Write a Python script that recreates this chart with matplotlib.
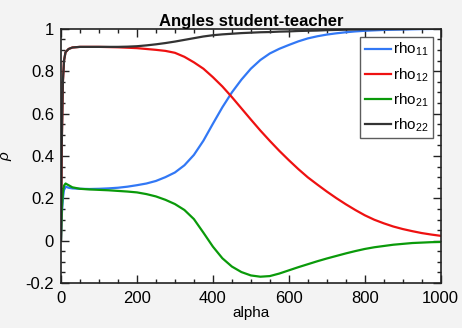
import matplotlib
matplotlib.use('Agg')
import matplotlib.pyplot as plt
from matplotlib.ticker import MultipleLocator

plt.rcParams['font.family'] = ['Liberation Sans', 'DejaVu Sans']
plt.rcParams['mathtext.fontset'] = 'custom'
plt.rcParams['mathtext.rm'] = 'Liberation Sans'
plt.rcParams['mathtext.it'] = 'Liberation Sans:italic'

# values
alpha = [0, 2, 5, 8, 12, 20, 30, 50, 75, 100, 125, 150,
         175, 200, 225, 250, 275, 300, 325, 350, 375, 400,
         425, 450, 475, 500, 525, 550, 575, 600, 625, 650,
         675, 700, 725, 750, 775, 800, 825, 850, 875, 900,
         925, 950, 975, 1000]
rho11 = [0, 0.12, 0.2, 0.24, 0.255, 0.25, 0.247, 0.245, 0.244, 0.245, 0.247, 0.25,
         0.255, 0.262, 0.27, 0.282, 0.3, 0.322, 0.356, 0.405, 0.472, 0.552,
         0.63, 0.7, 0.76, 0.812, 0.853, 0.884, 0.906, 0.924, 0.941, 0.955,
         0.965, 0.973, 0.979, 0.984, 0.988, 0.991, 0.993, 0.995, 0.996, 0.997,
         0.998, 0.999, 0.9995, 1.0]
rho12 = [0, 0.45, 0.75, 0.85, 0.89, 0.905, 0.912, 0.915, 0.915, 0.915, 0.914, 0.913,
         0.911, 0.909, 0.905, 0.901, 0.896, 0.887, 0.868, 0.842, 0.812, 0.772,
         0.728, 0.678, 0.625, 0.572, 0.52, 0.471, 0.424, 0.38, 0.338, 0.299,
         0.265, 0.232, 0.201, 0.172, 0.145, 0.12, 0.099, 0.082, 0.067, 0.055,
         0.045, 0.036, 0.029, 0.023]
rho21 = [0, 0.14, 0.23, 0.26, 0.27, 0.262, 0.252, 0.245, 0.242, 0.24, 0.238, 0.235,
         0.232, 0.228, 0.22, 0.209, 0.193, 0.173, 0.145, 0.102, 0.038, -0.028,
         -0.083, -0.122, -0.148, -0.164, -0.17, -0.167, -0.155, -0.14, -0.125, -0.111,
         -0.097, -0.084, -0.072, -0.06, -0.049, -0.039, -0.031, -0.025, -0.019, -0.015,
         -0.011, -0.009, -0.007, -0.006]
rho22 = [0, 0.45, 0.75, 0.85, 0.89, 0.905, 0.912, 0.915, 0.915, 0.915, 0.915, 0.915,
         0.916, 0.918, 0.922, 0.927, 0.933, 0.94, 0.948, 0.956, 0.964, 0.97,
         0.974, 0.977, 0.98, 0.982, 0.984, 0.985, 0.987, 0.988, 0.99, 0.991,
         0.992, 0.994, 0.995, 0.996, 0.997, 0.998, 0.998, 0.999, 0.999, 0.999,
         1.0, 1.0, 1.0, 1.0]

series = [
    (rho11, 'rho$_{11}$', '#3278f5'),
    (rho12, 'rho$_{12}$', '#ee1111'),
    (rho21, 'rho$_{21}$', '#0a9a0a'),
    (rho22, 'rho$_{22}$', '#333333'),
]

fig = plt.figure(figsize=(4.62, 3.28), dpi=100, facecolor='#f3f3f3')
ax = fig.add_axes([0.132, 0.137, 0.822, 0.775])
ax.set_facecolor('white')

for vals, lab, col in series:
    ax.plot(alpha, vals, color=col, lw=1.6, label=lab)

ax.set_xlim(0, 1000)
ax.set_ylim(-0.2, 1)
ax.set_xticks([0, 200, 400, 600, 800, 1000])
ax.set_xticklabels(['0', '200', '400', '600', '800', '1000'])
ax.xaxis.set_minor_locator(MultipleLocator(50))
ax.set_yticks([-0.2, 0, 0.2, 0.4, 0.6, 0.8, 1])
ax.set_yticklabels(['-0.2', '0', '0.2', '0.4', '0.6', '0.8', '1'])
ax.yaxis.set_minor_locator(MultipleLocator(0.05))
ax.tick_params(which='both', direction='in', top=True, right=True,
               labelsize=12, width=1, color='#222222')
ax.tick_params(which='major', length=6)
ax.tick_params(axis='x', which='major', pad=6)
ax.tick_params(axis='y', which='major', pad=5)
ax.tick_params(which='minor', length=3)
for sp in ax.spines.values():
    sp.set_linewidth(1.2)
    sp.set_color('#222222')

ax.set_title('Angles student-teacher', fontsize=12, fontweight='bold', pad=2)
ax.set_xlabel('alpha', fontsize=11, labelpad=0)
ax.set_ylabel(r'$\rho$', fontsize=11, labelpad=8)

leg = ax.legend(loc='upper right', fontsize=11, frameon=True, fancybox=False,
                edgecolor='#333333', handlelength=1.7, handletextpad=0.15,
                borderpad=0.3, labelspacing=0.5, borderaxespad=0.5)
leg.get_frame().set_linewidth(1)

fig.savefig('out.png', dpi=100, facecolor=fig.get_facecolor())
